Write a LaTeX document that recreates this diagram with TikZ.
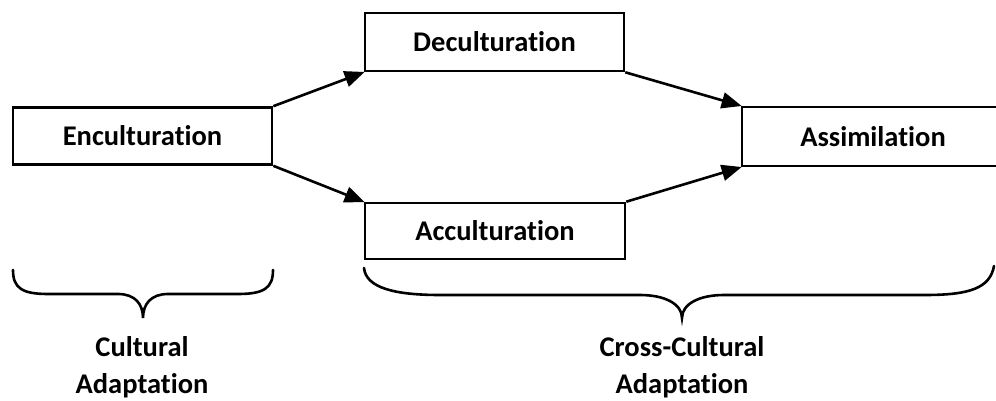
\documentclass[tikz,border=0pt]{standalone}
\usepackage{fontspec}
\setmainfont{Carlito}[Ligatures=CommonOff]
\usetikzlibrary{arrows.meta}
\tikzset{
  boxnode/.style={draw=black, line width=2.6pt, rectangle, inner sep=0pt, font=\bfseries\fontsize{28.5}{34}\selectfont},
  conn/.style={draw=black, line width=2.6pt, -{Triangle[length=20pt,width=16pt]}, shorten >=-1pt},
  bracepath/.style={draw=black, line width=2.6pt, line cap=round},
  lbl/.style={font=\bfseries\fontsize{28.5}{37}\selectfont, align=center, anchor=base, inner sep=0pt}
}
\begin{document}
\begin{tikzpicture}[x=1pt,y=-1pt]
\useasboundingbox (0,0) rectangle (996,401);
\clip (0,0) rectangle (996,401);
\node[boxnode, minimum width=259pt, minimum height=57pt] (enc) at (142.5,136) {Enculturation};
\node[boxnode, minimum width=259pt, minimum height=58pt] (dec) at (494.5,42) {Deculturation};
\node[boxnode, minimum width=260pt, minimum height=56pt] (acc) at (495,231) {Acculturation};
\node[boxnode, minimum width=262pt, minimum height=59pt] (ass) at (873,136.5) {Assimilation};
\draw[conn] (enc.north east) -- (dec.south west);
\draw[conn] (enc.south east) -- (acc.north west);
\draw[conn] (dec.south east) -- (ass.north west);
\draw[conn] (acc.north east) -- (ass.south west);
\draw[bracepath] (13,270) .. controls (13,288) and (22,294) .. (48,294) -- (118,294) .. controls (135,294) and (143,304) .. (143,318) .. controls (143,304) and (151,294) .. (168,294) -- (238,294) .. controls (264,294) and (273,288) .. (273,270);
\draw[bracepath] (364,268) .. controls (366,288) and (395,295) .. (440,295) -- (640,295) .. controls (665,295) and (682,304) .. (682,318) .. controls (682,304) and (699,295) .. (724,295) -- (925,295) .. controls (970,295) and (990,288) .. (994,266);
\node[lbl] (cul) at (142,393) {Cultural\\Adaptation};
\node[lbl] (cross) at (682,393) {Cross-Cultural\\Adaptation};
\end{tikzpicture}
\end{document}
